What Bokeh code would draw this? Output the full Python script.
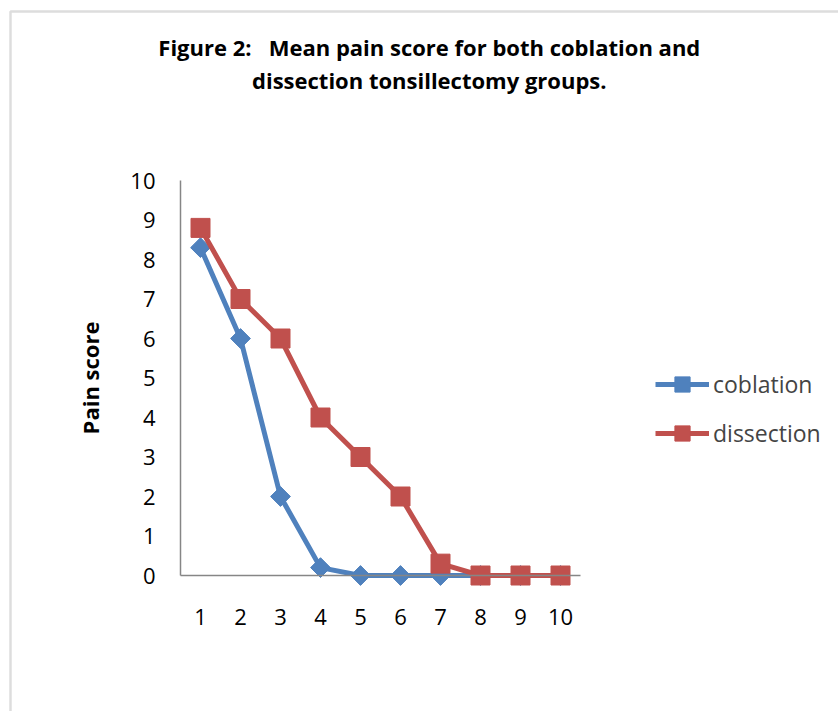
from bokeh.plotting import figure
from bokeh.models import Legend, Label, FixedTicker, Range1d, BoxAnnotation
from bokeh.embed import file_html
from bokeh.resources import INLINE
import math

days = [1, 2, 3, 4, 5, 6, 7, 8, 9, 10]
coblation = [8.3, 6, 2, 0.2, 0, 0, 0, 0, 0, 0]
dissection = [8.8, 7, 6, 4, 3, 2, 0.3, 0, 0, 0]
y_ticks = [0, 1, 2, 3, 4, 5, 6, 7, 8, 9, 10]
title_lines = ["Figure 2:\u00a0\u00a0\u00a0Mean pain score for both coblation and",
               "dissection tonsillectomy groups."]

FONT = "Open Sans"
BLUE = "#4F81BD"
RED = "#C0504D"
GRAY = "#868686"

# plot area: x 0.5..10.5 over 400px, y 0..10 over 395px, placed in an 838x711 canvas
p = figure(width=838, height=711, output_backend="svg", toolbar_location=None,
           x_range=Range1d(-4.0, 16.95), y_range=Range1d(-3.443, 14.557),
           min_border=0)
p.outline_line_color = None
p.grid.visible = False
p.background_fill_color = "white"
p.border_fill_color = "white"

# chart-area border (left and top edges visible)
p.add_layout(BoxAnnotation(left=-3.75, top=14.278, right=30, bottom=-10,
                           fill_alpha=0, line_color="#8e8e8e", line_width=2.5))

for ax in (p.xaxis[0], p.yaxis[0]):
    ax.axis_line_color = GRAY
    ax.axis_line_width = 1.5
    ax.major_tick_line_color = None
    ax.minor_tick_line_color = None
    ax.major_tick_out = 0
    ax.major_tick_in = 0
    ax.major_label_text_font = FONT
    ax.major_label_text_font_size = "22px"
    ax.major_label_text_color = "black"

p.xaxis.ticker = FixedTicker(ticks=days)
p.yaxis.ticker = FixedTicker(ticks=y_ticks)
p.xaxis.fixed_location = 0
p.yaxis.fixed_location = 0.5
p.xaxis.bounds = (0.5, 10.5)
p.yaxis.bounds = (0, 10)
p.xaxis.major_label_standoff = 33
p.yaxis.major_label_standoff = 25
p.yaxis.axis_label = "Pain score"
p.yaxis.axis_label_text_font = FONT
p.yaxis.axis_label_text_font_style = "bold"
p.yaxis.axis_label_text_font_size = "22px"
p.yaxis.axis_label_text_color = "black"
p.yaxis.axis_label_standoff = 22

l1 = p.line(days, coblation, line_color=BLUE, line_width=5)
m1 = p.scatter(days, coblation, marker="square", angle=math.pi / 4, size=14,
               fill_color=BLUE, line_color=BLUE)
l2 = p.line(days, dissection, line_color=RED, line_width=5)
m2 = p.scatter(days, dissection, marker="square", size=19,
               fill_color=RED, line_color=RED)

legend = Legend(items=[("coblation", [l1, m1]), ("dissection", [l2, m2])],
                location=(655, 259), orientation="vertical",
                label_text_font=FONT, label_text_font_size="23px",
                glyph_width=54, glyph_height=38, label_standoff=4,
                spacing=11, padding=0, margin=0,
                border_line_color=None, background_fill_alpha=0)
p.add_layout(legend)

for txt, yy in zip(title_lines, [13.37, 12.55]):
    p.add_layout(Label(x=6.72, y=yy, text=txt, text_align="center",
                       text_baseline="alphabetic", text_font=FONT,
                       text_font_style="bold", text_font_size="22px",
                       text_color="black"))

open("out.html", "w").write(file_html(p, INLINE))
